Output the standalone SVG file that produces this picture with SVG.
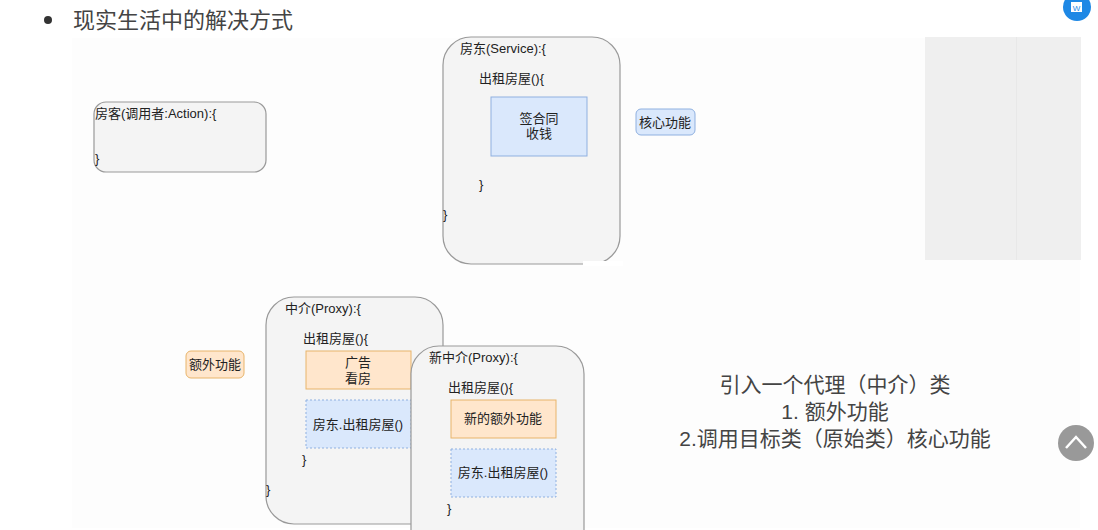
<svg xmlns="http://www.w3.org/2000/svg" width="1098" height="530" viewBox="0 0 1098 530">
<style>
text{font-family:"Liberation Sans","Noto Sans CJK SC",sans-serif;fill:#222}
.t{font-size:13px}
.c{font-size:13px;text-anchor:middle}
.big{font-size:21px;fill:#444}
.box{fill:#f4f4f4;stroke:#999;stroke-width:1.2}
.blue{fill:#dae8fc;stroke:#8fb0e0}
.org{fill:#ffe6cc;stroke:#e8b46a}
.dash{stroke-dasharray:2 2}
</style>
<rect width="1098" height="530" fill="#fff"/>
<rect x="72" y="38" width="1008" height="490" fill="#fdfdfd"/>
<rect x="925" y="37" width="156" height="223" fill="#efefef"/>
<rect x="1016" y="37" width="1" height="223" fill="#e8e8e8"/>
<circle cx="48" cy="20" r="4" fill="#333"/>
<text x="73" y="28" font-size="22" style="fill:#444">现实生活中的解决方式</text>
<g id="icon"><circle cx="1077" cy="7" r="14" fill="#1e88e5"/><rect x="1071" y="2" width="11" height="10" fill="#fff"/><text x="1076.5" y="11" font-size="8" style="fill:#1e88e5;text-anchor:middle">W</text></g>
<g id="customer"><rect class="box" x="94" y="102" width="172" height="70" rx="12"/>
<text x="95" y="118" class="t">房客(调用者:Action):{</text><text x="95" y="163" class="t">}</text></g>
<g id="landlord"><rect class="box" x="443" y="37" width="177" height="227" rx="28"/>
<text x="460" y="53" class="t">房东(Service):{</text><text x="479" y="83" class="t">出租房屋(){</text>
<rect class="blue" x="491" y="97" width="96" height="59"/>
<text x="539" y="123" class="c">签合同</text><text x="539" y="138" class="c">收钱</text>
<text x="479" y="189" class="t">}</text><text x="443" y="219" class="t">}</text></g>
<rect x="583" y="261" width="40" height="5" fill="#fff"/>
<g id="core"><rect class="blue" x="636" y="109" width="59" height="26" rx="5"/><text x="665" y="127" class="c">核心功能</text></g>
<g id="extra"><rect class="org" x="186" y="351" width="58" height="27" rx="5"/><text x="215" y="369" class="c">额外功能</text></g>
<g id="proxy"><rect class="box" x="266" y="297" width="177" height="227" rx="28"/>
<text x="285" y="313" class="t">中介(Proxy):{</text><text x="303" y="343" class="t">出租房屋(){</text>
<rect class="org" x="306" y="351" width="105" height="38"/>
<text x="358" y="367" class="c">广告</text><text x="358" y="383" class="c">看房</text>
<rect class="blue dash" x="306" y="400" width="105" height="48"/>
<text x="358" y="429" class="c">房东.出租房屋()</text>
<text x="302" y="464" class="t">}</text><text x="266" y="494" class="t">}</text></g>
<g id="newproxy"><path class="box" d="M411,530 V375 A28,28 0 0 1 439,346 H556 A28,28 0 0 1 584,374 V530"/>
<text x="429" y="362" class="t">新中介(Proxy):{</text><text x="448" y="392" class="t">出租房屋(){</text>
<rect class="org" x="451" y="400" width="105" height="38"/>
<text x="503" y="423" class="c">新的额外功能</text>
<rect class="blue dash" x="451" y="449" width="105" height="48"/>
<text x="503" y="477" class="c">房东.出租房屋()</text>
<text x="447" y="513" class="t">}</text></g>
<text x="835" y="392" class="big" text-anchor="middle">引入一个代理（中介）类</text>
<text x="835" y="419" class="big" text-anchor="middle">1. 额外功能</text>
<text x="835" y="446" class="big" text-anchor="middle">2.调用目标类（原始类）核心功能</text>
<g id="top"><circle cx="1076" cy="443" r="18" fill="#999"/><path d="M1066,448 L1076,437 L1086,448" fill="none" stroke="#fff" stroke-width="2.5"/></g>
</svg>
